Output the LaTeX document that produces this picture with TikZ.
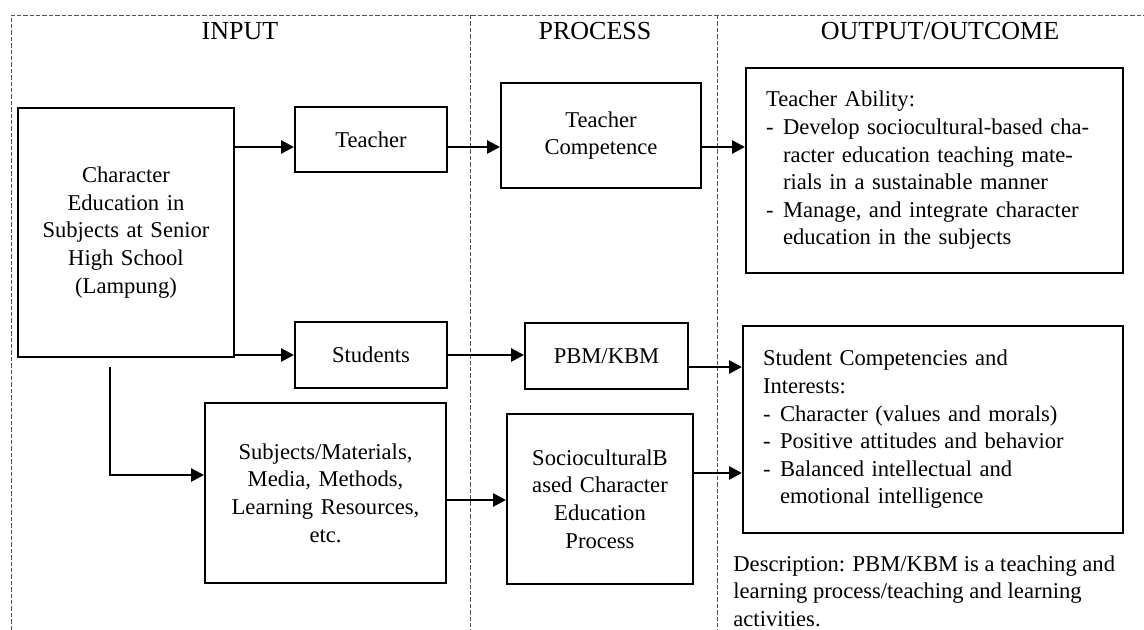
\documentclass[tikz,border=0pt]{standalone}
\usepackage{fontspec}
\setmainfont{Liberation Serif}
\usepackage{tikz}
\usetikzlibrary{arrows.meta}
\definecolor{frame}{HTML}{555555}
\newcommand\bodyfont{\fontsize{11.3}{13.8}\selectfont}
\newcommand\headfont{\fontsize{13}{15}\selectfont}
\newcommand\bul{\makebox[8.5pt][l]{-}}
\newcommand\cont{\hspace*{8.5pt}}
\newcommand\spread[1]{\makebox[160pt][s]{#1}}

\begin{document}
\begin{tikzpicture}[x=0.5pt,y=-0.5pt,
    box/.style={draw,line width=1pt,inner sep=0pt,align=center,font=\bodyfont},
    arr/.style={-{Triangle[length=6.5pt,width=6.5pt]},line width=1.35pt},
    zone/.style={draw=frame,line width=0.4pt,dash pattern=on 2.2pt off 1pt},
    head/.style={anchor=base,font=\headfont}]
    \useasboundingbox (0,0) rectangle (1144,630);
    \draw[zone] (11,630) -- (11,15) -- (1144,15);
    \draw[zone] (470,15) -- (470,630);
    \draw[zone] (717,15) -- (717,630);
    \node[head] (hin) at (240,40) {INPUT};
    \node[head] (hproc) at (595,40) {PROCESS};
    \node[head] (hout) at (940,40) {OUTPUT/OUTCOME};

    \node[box,minimum width=108pt,minimum height=124.5pt,text width=100pt] (char) at (126,232.5)
        {Character\\Education in\\Subjects at Senior\\High School\\(Lampung)};
    \node[box,minimum width=76pt,minimum height=32.5pt] (teacher) at (371,139.5) {Teacher};
    \node[box,minimum width=76pt,minimum height=33pt] (students) at (371,355) {Students};
    \node[box,minimum width=120.5pt,minimum height=90pt,text width=112pt] (subjects) at (325.5,493)
        {Subjects/Materials,\\Media, Methods,\\Learning Resources,\\etc.};
    \node[box,minimum width=100pt,minimum height=52.5pt,text width=90pt] (tcomp) at (601,135.5)
        {Teacher\\Competence};
    \node[box,minimum width=81.5pt,minimum height=33pt] (pbm) at (606.5,356) {PBM/KBM};
    \node[box,minimum width=93pt,minimum height=85pt,text width=85pt] (socio) at (600,499)
        {SocioculturalB\\ased Character\\Education\\Process};
    \node[box,minimum width=188.5pt,minimum height=102.5pt,inner xsep=10pt,text width=168.5pt,align=left] (tabil) at (934.5,170.5)
        {Teacher Ability:\\
         \bul\spread{Develop sociocultural-based cha-}\\
         \cont\spread{racter education teaching mate-}\\
         \cont rials in a sustainable manner\\
         \bul\spread{Manage, and integrate character}\\
         \cont education in the subjects};
    \node[box,minimum width=190pt,minimum height=103.5pt,inner xsep=10pt,text width=170pt,align=left] (scomp) at (933,429.5)
        {Student Competencies and\\
         Interests:\\
         \bul Character (values and morals)\\
         \bul Positive attitudes and behavior\\
         \bul Balanced intellectual and\\
         \cont emotional intelligence};
    \node[anchor=north west,inner sep=0pt,align=left,font=\bodyfont] (note) at (733,555)
        {Description: PBM/KBM is a teaching and\\
         learning process/teaching and learning\\
         activities.};

    \coordinate (rowT) at (0,147);
    \coordinate (rowP) at (0,367);
    \coordinate (rowQ) at (0,473);
    \coordinate (rowM) at (0,475);
    \coordinate (rowL) at (0,500);
    \coordinate (split) at (110,367);
    \draw[arr] (char.east |- rowT) -- (teacher.west |- rowT);
    \draw[arr] (teacher.east |- rowT) -- (tcomp.west |- rowT);
    \draw[arr] (tcomp.east |- rowT) -- (tabil.west |- rowT);
    \draw[arr] (char.east |- students.west) -- (students.west);
    \draw[arr] (students.east) -- (pbm.west |- students.east);
    \draw[arr] (pbm.east |- rowP) -- (scomp.west |- rowP);
    \draw[arr] (split) |- (subjects.west |- rowM);
    \draw[arr] (subjects.east |- rowL) -- (socio.west |- rowL);
    \draw[arr] (socio.east |- rowQ) -- (scomp.west |- rowQ);
\end{tikzpicture}
\end{document}
